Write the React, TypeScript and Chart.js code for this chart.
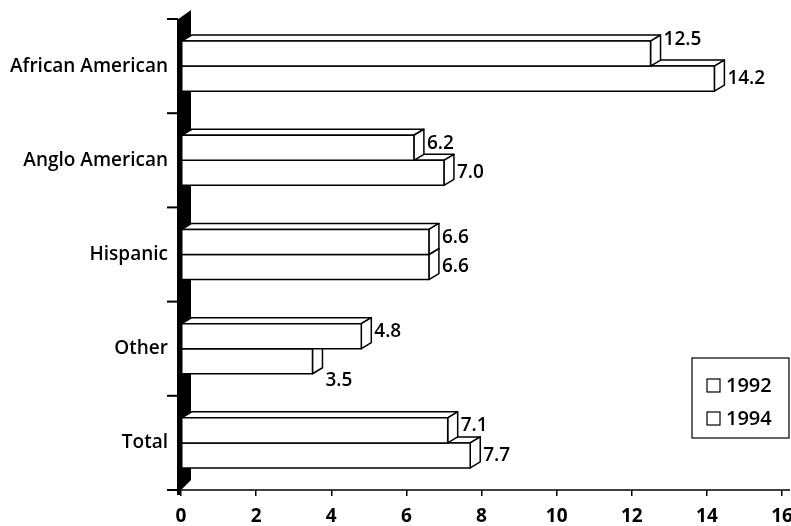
import React, { useEffect, useRef } from "react";
import { Chart, registerables } from "chart.js";

Chart.register(...registerables);

const categories = ["African American", "Anglo American", "Hispanic", "Other", "Total"];
const values1992 = [12.5, 6.2, 6.6, 4.8, 7.1];
const values1994 = [14.2, 7.0, 6.6, 3.5, 7.7];
const seriesNames = ["1992", "1994"];
const xMin = 0;
const xMax = 16;
const xStep = 2;

const FONT = "'Open Sans', Lato, sans-serif";
const DX = 10;
const DY = 6;

const wallPlugin = {
  id: "wall3d",
  beforeDatasetsDraw(chart: any) {
    const { ctx, chartArea } = chart;
    const { left, top, bottom, right } = chartArea;
    ctx.save();
    ctx.fillStyle = "#000";
    ctx.beginPath();
    ctx.moveTo(left - 4, bottom + 5);
    ctx.lineTo(left - 4, top + 1);
    ctx.lineTo(left + 10, top - 9);
    ctx.lineTo(left + 10, bottom - 10);
    ctx.lineTo(left, bottom);
    ctx.lineTo(left, bottom + 5);
    ctx.closePath();
    ctx.fill();
    ctx.strokeStyle = "#000";
    ctx.lineWidth = 2;
    const n = categories.length;
    for (let k = 0; k <= n; k++) {
      const y = top + (k * (bottom - top)) / n;
      ctx.beginPath();
      ctx.moveTo(left - 14, y);
      ctx.lineTo(left - 3, y);
      ctx.stroke();
    }
    ctx.lineWidth = 1.5;
    ctx.beginPath();
    ctx.moveTo(left - 12, bottom);
    ctx.lineTo(right + 8, bottom);
    ctx.stroke();
    ctx.restore();
  },
};

const bars3dPlugin = {
  id: "bars3d",
  afterDatasetsDraw(chart: any) {
    const { ctx } = chart;
    ctx.save();
    ctx.strokeStyle = "#000";
    ctx.fillStyle = "#fff";
    ctx.lineWidth = 1.5;
    ctx.lineJoin = "round";
    const order = [1, 0];
    const geo: any[][] = [[], []];
    for (const di of order) {
      const meta = chart.getDatasetMeta(di);
      meta.data.forEach((bar: any, i: number) => {
        const { x, y, base, height } = bar.getProps(["x", "y", "base", "height"], true);
        const t = y - height / 2;
        const b = y + height / 2;
        geo[di][i] = { x, y, t, b };
        ctx.beginPath();
        ctx.moveTo(base, t);
        ctx.lineTo(base + DX, t - DY);
        ctx.lineTo(x + DX, t - DY);
        ctx.lineTo(x, t);
        ctx.closePath();
        ctx.fill();
        ctx.stroke();
        ctx.beginPath();
        ctx.moveTo(x, t);
        ctx.lineTo(x + DX, t - DY);
        ctx.lineTo(x + DX, b - DY);
        ctx.lineTo(x, b);
        ctx.closePath();
        ctx.fill();
        ctx.stroke();
        ctx.beginPath();
        ctx.rect(base, t, x - base, b - t);
        ctx.fill();
        ctx.stroke();
      });
    }
    ctx.fillStyle = "#000";
    ctx.font = `600 19px ${FONT}`;
    ctx.textAlign = "left";
    ctx.textBaseline = "middle";
    for (let i = 0; i < categories.length; i++) {
      const v92 = values1992[i];
      const v94 = values1994[i];
      const g92 = geo[0][i];
      const g94 = geo[1][i];
      if (g92) {
        const ly = v94 - v92 >= 0.8 ? g92.t - 1 : g92.t + 8;
        ctx.fillText(v92.toFixed(1), g92.x + DX + 3, ly);
      }
      if (g94) {
        const ly = v94 < v92 ? g94.b + 7 : g94.y;
        ctx.fillText(v94.toFixed(1), g94.x + DX + 3, ly);
      }
    }
    ctx.restore();
  },
};

const legendPlugin = {
  id: "legendBox",
  afterDraw(chart: any) {
    const { ctx } = chart;
    ctx.save();
    ctx.strokeStyle = "#000";
    ctx.lineWidth = 1.2;
    ctx.strokeRect(692, 358, 97, 80);
    ctx.font = `600 20px ${FONT}`;
    ctx.textAlign = "left";
    ctx.textBaseline = "middle";
    seriesNames.forEach((name, k) => {
      const cy = 385 + k * 33;
      ctx.fillStyle = "#fff";
      ctx.fillRect(707, cy - 6, 13, 13);
      ctx.strokeRect(707, cy - 6, 13, 13);
      ctx.fillStyle = "#000";
      ctx.fillText(name, 726, cy + 1);
    });
    ctx.restore();
  },
};

export default function App() {
  const ref = useRef<HTMLCanvasElement>(null);
  useEffect(() => {
    if (!ref.current) return;
    const chart = new Chart(ref.current, {
      type: "bar",
      data: {
        labels: categories,
        datasets: [
          {
            label: seriesNames[0],
            data: values1992,
            backgroundColor: "rgba(0,0,0,0)",
            borderWidth: 0,
          },
          {
            label: seriesNames[1],
            data: values1994,
            backgroundColor: "rgba(0,0,0,0)",
            borderWidth: 0,
          },
        ],
      },
      options: {
        indexAxis: "y",
        responsive: false,
        animation: false,
        devicePixelRatio: 1,
        categoryPercentage: 0.532,
        barPercentage: 1.0,
        layout: { padding: { top: 19, right: 0, left: 0, bottom: 0 } },
        plugins: {
          legend: { display: false },
          tooltip: { enabled: false },
        },
        scales: {
          x: {
            min: xMin,
            max: xMax,
            ticks: {
              stepSize: xStep,
              color: "#000",
              font: { family: FONT, size: 19, weight: "bold" },
              padding: 9,
              maxRotation: 0,
              autoSkip: false,
            },
            grid: {
              drawOnChartArea: false,
              drawTicks: true,
              tickLength: 6,
              color: "#000",
              lineWidth: 1.5,
            },
            border: { display: false },
            afterFit: (s: any) => {
              s.height = 36;
              s.paddingRight = 9;
            },
          },
          y: {
            grid: { display: false },
            border: { display: false },
            ticks: {
              color: "#000",
              font: { family: FONT, size: 19, weight: "600" },
              padding: 5,
            },
            afterFit: (s: any) => {
              s.width = 181;
              s.paddingTop = 0;
              s.paddingBottom = 0;
            },
          },
        },
      } as any,
      plugins: [wallPlugin, bars3dPlugin, legendPlugin],
    });
    return () => chart.destroy();
  }, []);
  return (
    <div style={{ position: "fixed", left: 0, top: 0, width: 791, height: 526, background: "#fff" }}>
      <canvas ref={ref} width={791} height={526} />
    </div>
  );
}
